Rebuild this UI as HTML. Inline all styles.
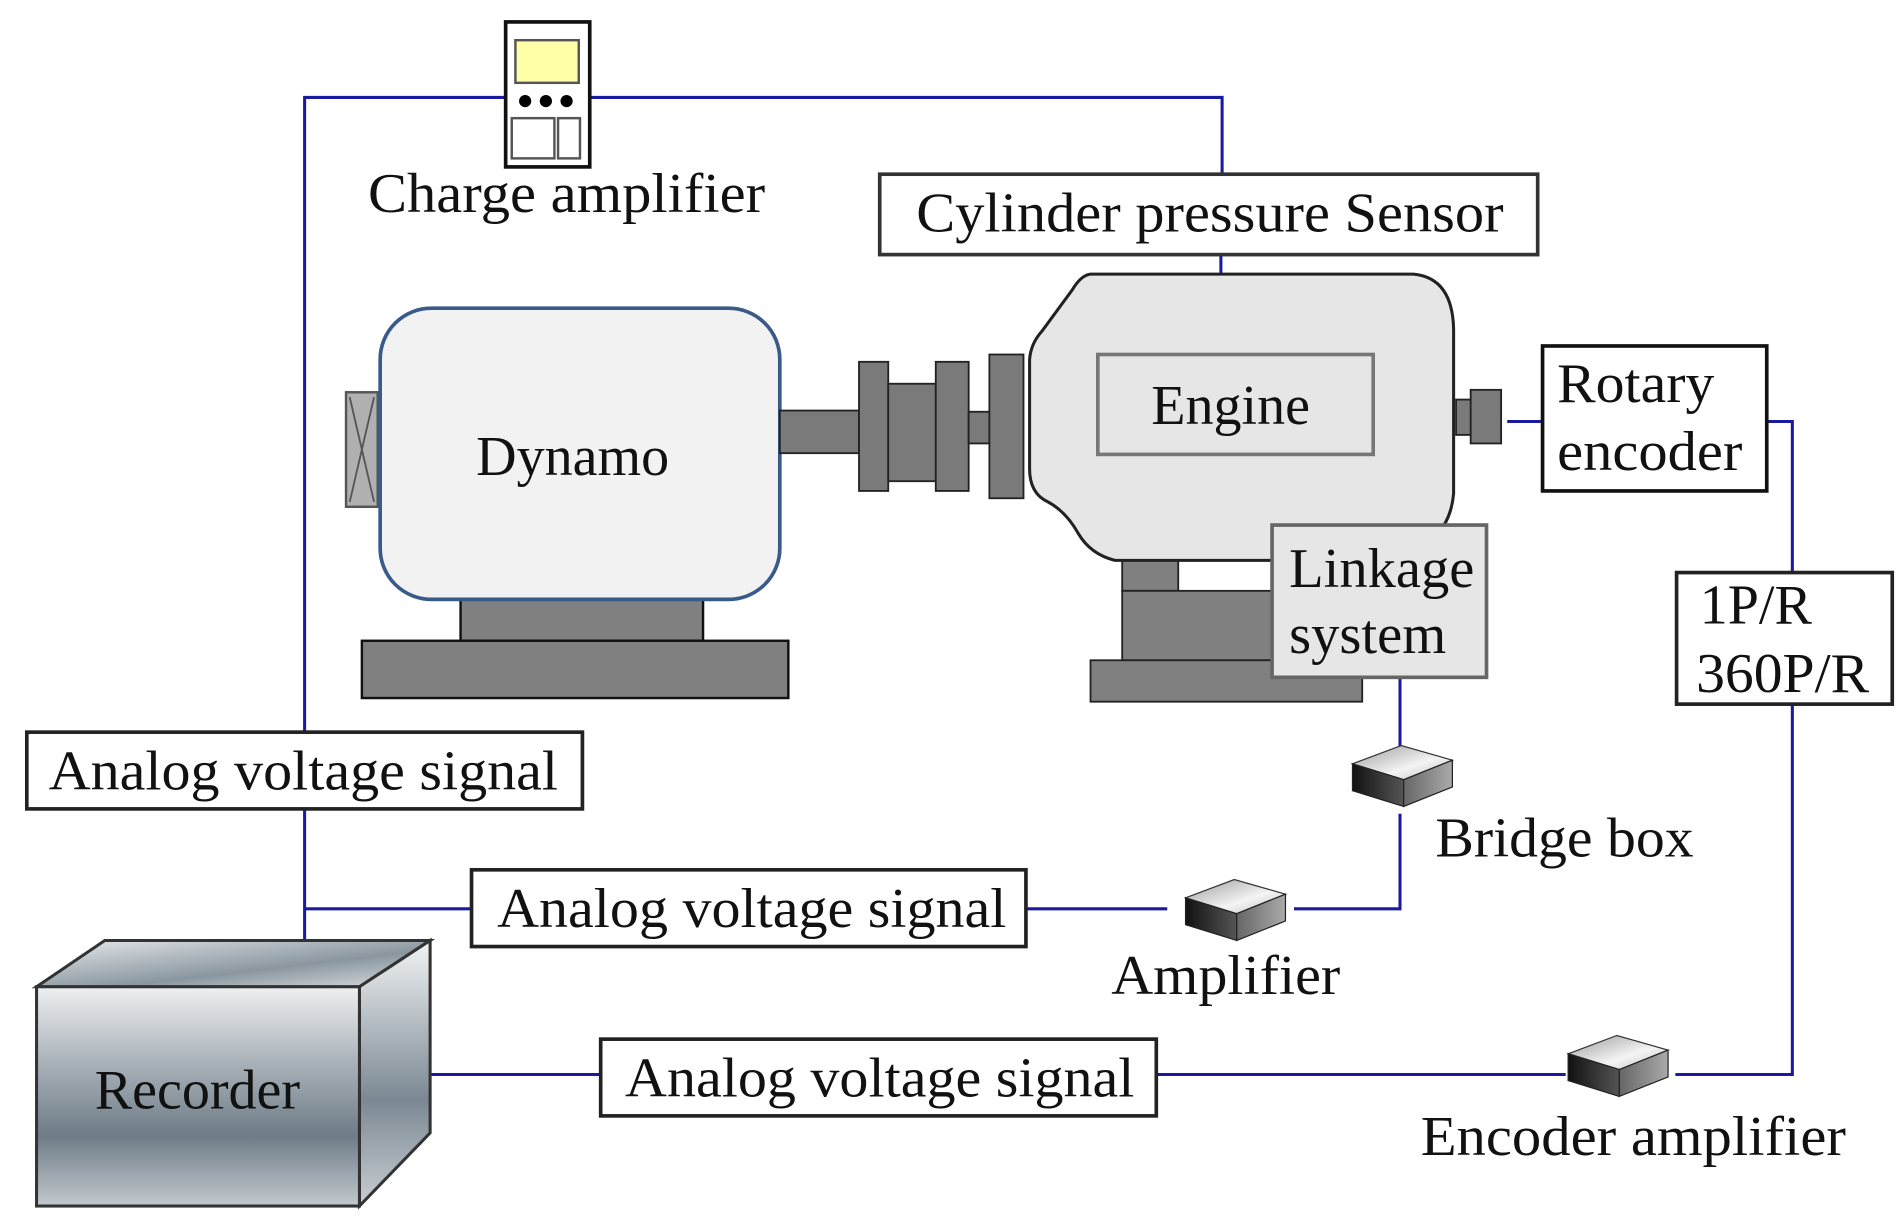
<!DOCTYPE html>
<html><head><meta charset="utf-8"><style>
html,body{margin:0;padding:0;background:#fff}
svg{display:block}
text{font-family:"Liberation Serif",serif;fill:#111}
</style></head><body>
<svg width="1902" height="1217" viewBox="0 0 1561 999" preserveAspectRatio="none" xmlns="http://www.w3.org/2000/svg">
<defs>
<linearGradient id="rf" x1="0" y1="0" x2="0" y2="1">
<stop offset="0" stop-color="#eef0f2"/><stop offset="0.35" stop-color="#a9b1b8"/><stop offset="0.68" stop-color="#6e7c87"/><stop offset="1" stop-color="#c3c9ce"/></linearGradient>
<linearGradient id="rt" x1="0" y1="0" x2="1" y2="1">
<stop offset="0" stop-color="#e8ebee"/><stop offset="0.6" stop-color="#8a969f"/><stop offset="1" stop-color="#dde1e4"/></linearGradient>
<linearGradient id="rs" x1="0" y1="0" x2="0" y2="1">
<stop offset="0" stop-color="#f2f4f5"/><stop offset="0.6" stop-color="#7b8893"/><stop offset="1" stop-color="#c9ced2"/></linearGradient>
<linearGradient id="ct" x1="0" y1="0" x2="1" y2="1"><stop offset="0" stop-color="#9a9a9a"/><stop offset="0.6" stop-color="#f4f4f4"/><stop offset="1" stop-color="#bdbdbd"/></linearGradient>
<linearGradient id="cl" x1="0" y1="0" x2="1" y2="0"><stop offset="0" stop-color="#111"/><stop offset="1" stop-color="#555"/></linearGradient>
<linearGradient id="cr" x1="0" y1="0" x2="1" y2="0"><stop offset="0" stop-color="#666"/><stop offset="1" stop-color="#aaa"/></linearGradient>
<g id="cube">
<polygon points="0,15 40,0 82,12 42,28" fill="url(#ct)" stroke="#333" stroke-width="1"/>
<polygon points="0,15 42,28 42,50 0,37" fill="url(#cl)" stroke="#222" stroke-width="1"/>
<polygon points="42,28 82,12 82,34 42,50" fill="url(#cr)" stroke="#222" stroke-width="1"/>
</g>
</defs>

<!-- blue connectors -->
<g stroke="#1a1aa0" stroke-width="2.5" fill="none">
<polyline points="250,772 250,80 1003,80 1003,143"/>
<line x1="250" y1="746" x2="387" y2="746"/>
<line x1="1002" y1="209" x2="1002" y2="228"/>
<line x1="1237" y1="346" x2="1266" y2="346"/>
<polyline points="1450,346 1471,346 1471,470"/>
<polyline points="1471,578 1471,882 1375,882"/>
<line x1="949" y1="882" x2="1285" y2="882"/>
<line x1="353" y1="882" x2="493" y2="882"/>
<line x1="1149" y1="556" x2="1149" y2="614"/>
<polyline points="1149,668 1149,746 1062,746"/>
<line x1="842" y1="746" x2="958" y2="746"/>
</g>

<!-- charge amplifier -->
<rect x="415" y="18" width="69" height="119" fill="#fff" stroke="#111" stroke-width="3"/>
<rect x="423" y="33" width="52" height="35" fill="#ffffa8" stroke="#555" stroke-width="2"/>
<circle cx="431" cy="83" r="5" fill="#000"/><circle cx="448" cy="83" r="5" fill="#000"/><circle cx="465" cy="83" r="5" fill="#000"/>
<rect x="420" y="97" width="35" height="33" fill="#fff" stroke="#555" stroke-width="2"/>
<rect x="458" y="97" width="18" height="33" fill="#fff" stroke="#555" stroke-width="2"/>
<text x="302" y="174" font-size="46" textLength="326" lengthAdjust="spacingAndGlyphs">Charge amplifier</text>

<!-- cylinder pressure sensor -->
<rect x="722" y="143" width="540" height="66" fill="#fff" stroke="#333" stroke-width="3"/>
<text x="752" y="190" font-size="46" textLength="482" lengthAdjust="spacingAndGlyphs">Cylinder pressure Sensor</text>

<!-- dynamo -->
<rect x="284" y="322" width="26" height="94" fill="#b0b0b0" stroke="#555" stroke-width="2"/>
<path d="M287,326 L307,412 M307,326 L287,412" stroke="#555" stroke-width="1.5"/>
<rect x="378" y="490" width="199" height="36" fill="#808080" stroke="#111" stroke-width="2"/>
<rect x="297" y="526" width="350" height="47" fill="#808080" stroke="#111" stroke-width="2"/>
<rect x="312" y="253" width="328" height="239" rx="42" fill="#f2f2f2" stroke="#3a5a8a" stroke-width="3"/>
<text x="470" y="390" font-size="46" text-anchor="middle">Dynamo</text>

<!-- shaft & coupling -->
<g fill="#7a7a7a" stroke="#222" stroke-width="1.5">
<rect x="640" y="337" width="65" height="35"/>
<rect x="705" y="297" width="24" height="106"/>
<rect x="729" y="315" width="39" height="80"/>
<rect x="768" y="297" width="27" height="106"/>
<rect x="795" y="338" width="17" height="26"/>
<rect x="812" y="291" width="28" height="118"/>
</g>

<!-- engine base -->
<rect x="921" y="460" width="46" height="25" fill="#808080" stroke="#222" stroke-width="1.5"/>
<rect x="921" y="485" width="124" height="57" fill="#808080" stroke="#222" stroke-width="1.5"/>
<rect x="895" y="542" width="223" height="34" fill="#808080" stroke="#222" stroke-width="1.5"/>
<!-- engine -->
<path d="M895,225 L1160,225 Q1192,228 1193,270 L1193,405 Q1190,440 1160,450 L1120,455 L1120,460 L915,460 Q895,455 885,438 Q875,420 860,412 Q845,405 845,385 L845,295 Q846,282 855,272 L880,238 Q887,226 895,225 Z" fill="#e6e6e6" stroke="#222" stroke-width="2.5"/>
<rect x="901" y="291" width="226" height="82" fill="none" stroke="#777" stroke-width="3"/>
<text x="1010" y="348" font-size="46" text-anchor="middle">Engine</text>
<rect x="1195" y="328" width="13" height="29" fill="#7a7a7a" stroke="#222" stroke-width="1.5"/>
<rect x="1207" y="320" width="25" height="44" fill="#7a7a7a" stroke="#222" stroke-width="1.5"/>

<!-- linkage -->
<rect x="1044" y="431" width="176" height="125" fill="#e6e6e6" stroke="#666" stroke-width="3"/>
<text x="1058" y="482" font-size="46" textLength="152" lengthAdjust="spacingAndGlyphs">Linkage</text>
<text x="1058" y="536" font-size="46" textLength="129" lengthAdjust="spacingAndGlyphs">system</text>

<!-- rotary encoder -->
<rect x="1266" y="284" width="184" height="119" fill="#fff" stroke="#111" stroke-width="3"/>
<text x="1278" y="330" font-size="46" textLength="129" lengthAdjust="spacingAndGlyphs">Rotary</text>
<text x="1278" y="386" font-size="46" textLength="152" lengthAdjust="spacingAndGlyphs">encoder</text>

<!-- 1P/R box -->
<rect x="1376" y="470" width="177" height="108" fill="#fff" stroke="#222" stroke-width="3"/>
<text x="1395" y="512" font-size="46" textLength="92" lengthAdjust="spacingAndGlyphs">1P/R</text>
<text x="1392" y="568" font-size="46" textLength="142" lengthAdjust="spacingAndGlyphs">360P/R</text>

<!-- cubes -->
<use href="#cube" transform="translate(1110,612)"/>
<use href="#cube" transform="translate(973,722)"/>
<use href="#cube" transform="translate(1287,850)"/>
<text x="1178" y="703" font-size="46" textLength="212" lengthAdjust="spacingAndGlyphs">Bridge box</text>
<text x="912" y="816" font-size="46" textLength="188" lengthAdjust="spacingAndGlyphs">Amplifier</text>
<text x="1166" y="948" font-size="46" textLength="349" lengthAdjust="spacingAndGlyphs">Encoder amplifier</text>

<!-- analog boxes -->
<rect x="22" y="601" width="456" height="63" fill="#fff" stroke="#222" stroke-width="3"/>
<text x="40" y="648" font-size="46" textLength="418" lengthAdjust="spacingAndGlyphs">Analog voltage signal</text>
<rect x="387" y="714" width="455" height="63" fill="#fff" stroke="#222" stroke-width="3"/>
<text x="408" y="761" font-size="46" textLength="418" lengthAdjust="spacingAndGlyphs">Analog voltage signal</text>
<rect x="493" y="853" width="456" height="63" fill="#fff" stroke="#222" stroke-width="3"/>
<text x="513" y="900" font-size="46" textLength="418" lengthAdjust="spacingAndGlyphs">Analog voltage signal</text>

<!-- recorder -->
<polygon points="30,810 86,772 353,772 295,810" fill="url(#rt)" stroke="#333" stroke-width="2.5"/>
<polygon points="295,810 353,772 353,930 295,990" fill="url(#rs)" stroke="#333" stroke-width="2.5"/>
<rect x="30" y="810" width="265" height="180" fill="url(#rf)" stroke="#333" stroke-width="2.5"/>
<text x="162" y="910" font-size="46" text-anchor="middle">Recorder</text>
</svg>
</body></html>
